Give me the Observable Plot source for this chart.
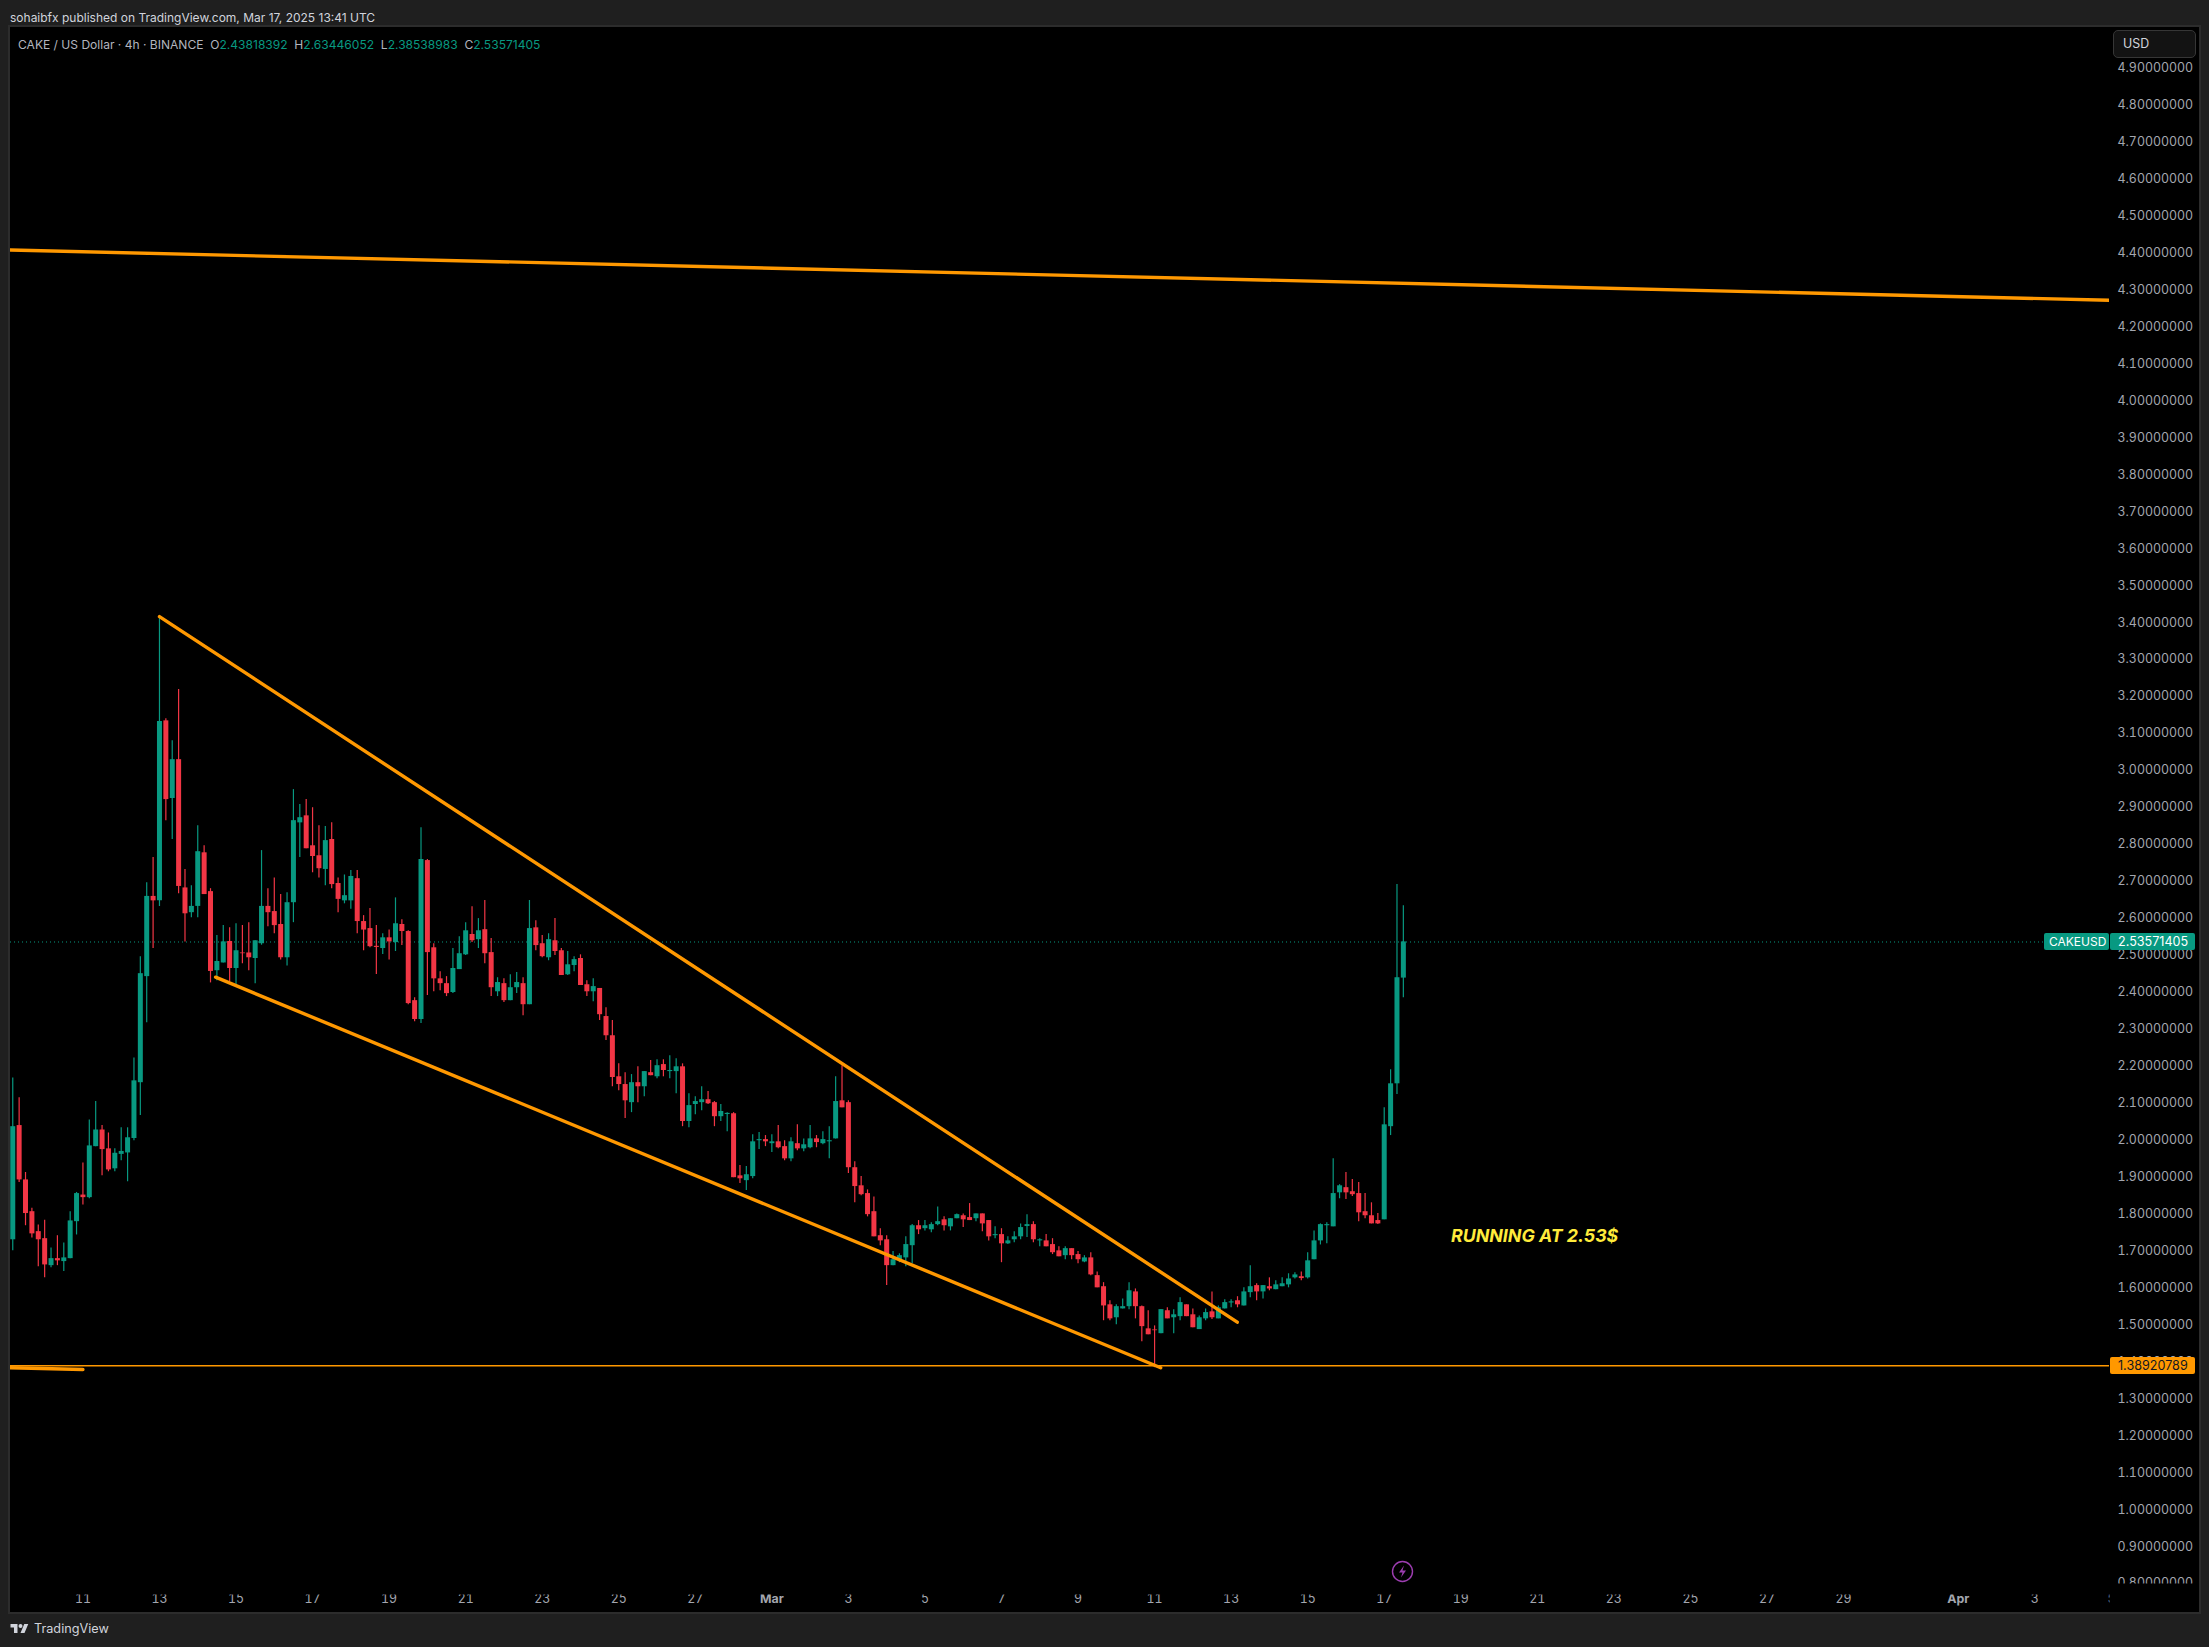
<!DOCTYPE html>
<html>
<head>
<meta charset="utf-8">
<script src="https://cdn.jsdelivr.net/npm/d3@7"></script>
<script src="https://cdn.jsdelivr.net/npm/@observablehq/plot@0.6"></script>
<style>
  html,body{margin:0;padding:0;background:#1f1f1f;}
  #page{position:relative;width:2209px;height:1647px;overflow:hidden;background:#1f1f1f;font-family:Inter,"Noto Sans",sans-serif;}
  #pane{position:absolute;left:10px;top:27px;width:2189px;height:1585px;background:#000;outline:2px solid #2c2c2c;}
  #pane svg{display:block;background:#000;}
  #head{position:absolute;left:10px;top:9px;font-size:12px;line-height:18px;color:#d1d4dc;white-space:pre;}
  #legend{position:absolute;left:18px;top:36px;font-size:12.05px;line-height:18px;color:#b2b5be;white-space:pre;}
  #legend b{font-weight:400;color:#089981;}
  #foot{position:absolute;left:34px;top:1619px;font-size:12.7px;line-height:20px;color:#d1d4dc;}
  #logo{position:absolute;left:10px;top:1622px;width:19px;height:14px;}
  #usd{position:absolute;left:2113px;top:30px;width:72px;height:26px;padding-left:9px;background:#131313;border:1px solid #363636;border-radius:5px;font-size:12.4px;line-height:26px;color:#d1d4dc;box-sizing:content-box;}
  .tag{position:absolute;height:17px;line-height:17px;font-size:12.6px;border-radius:2px;white-space:pre;}
  #bolt{position:absolute;width:23px;height:23px;}
</style>
</head>
<body>
<div id="page">
  <div id="pane"></div>
  <div id="head">sohaibfx published on TradingView.com, Mar 17, 2025 13:41 UTC</div>
  <div id="legend">CAKE / US Dollar · 4h · BINANCE  O<b>2.43818392</b>  H<b>2.63446052</b>  L<b>2.38538983</b>  C<b>2.53571405</b></div>
  <div id="usd">USD</div>
  <svg id="logo" viewBox="0 0 36 28"><path fill="#d1d4dc" d="M14 22H7V11H0V4h14v18zM28 22h-8l7.5-18h8L28 22z"/><circle fill="#d1d4dc" cx="20" cy="8" r="4"/></svg>
  <div id="foot">TradingView</div>
</div>
<script>
const firstCandle = Date.UTC(2025, 1, 9, 4);
const candleStep = 4 * 3600 * 1000;

const highs = [
2.168,2.114,1.912,1.815,1.770,1.783,1.708,1.741,1.721,1.806,
1.858,1.938,2.054,2.104,2.039,2.019,1.976,2.033,2.033,2.222,
2.496,2.696,2.764,3.416,3.140,3.080,3.219,2.732,2.688,2.850,
2.796,2.680,2.553,2.580,2.574,2.585,2.580,2.588,2.539,2.783,
2.680,2.709,2.664,2.669,2.948,2.908,2.921,2.899,2.850,2.848,
2.858,2.709,2.717,2.729,2.729,2.607,2.626,2.580,2.558,2.568,
2.655,2.596,2.566,2.385,2.845,2.759,2.531,2.455,2.442,2.518,
2.550,2.588,2.631,2.599,2.648,2.545,2.439,2.436,2.447,2.453,
2.439,2.648,2.593,2.553,2.558,2.599,2.518,2.510,2.496,2.501,
2.431,2.436,2.410,2.358,2.323,2.206,2.182,2.177,2.198,2.185,
2.215,2.217,2.217,2.228,2.220,2.206,2.125,2.117,2.144,2.131,
2.104,2.096,2.074,2.074,1.931,1.928,2.014,2.020,2.012,2.014,
2.039,1.998,2.006,2.041,2.003,2.039,2.012,2.022,2.036,2.171,
2.201,2.106,1.941,1.901,1.865,1.846,1.760,1.741,1.698,1.692,
1.738,1.771,1.782,1.782,1.776,1.819,1.792,1.787,1.800,1.800,
1.828,1.800,1.800,1.782,1.765,1.760,1.738,1.752,1.773,1.798,
1.779,1.733,1.744,1.733,1.711,1.711,1.706,1.698,1.687,1.695,
1.643,1.614,1.565,1.554,1.570,1.614,1.597,1.551,1.538,1.497,
1.541,1.546,1.541,1.573,1.554,1.543,1.524,1.543,1.589,1.551,
1.568,1.568,1.576,1.600,1.660,1.611,1.606,1.627,1.619,1.627,
1.638,1.641,1.643,1.695,1.754,1.773,1.776,1.949,1.879,1.912,
1.893,1.885,1.855,1.830,1.801,2.087,2.190,2.691,2.634];

const lows = [
1.700,1.885,1.768,1.735,1.657,1.627,1.654,1.660,1.644,1.679,
1.743,1.824,1.841,1.982,1.903,1.914,1.914,1.944,1.887,1.998,
2.066,2.317,2.518,2.632,2.864,2.813,2.666,2.536,2.601,2.601,
2.664,2.425,2.431,2.479,2.429,2.414,2.477,2.458,2.423,2.527,
2.577,2.558,2.487,2.471,2.588,2.764,2.788,2.723,2.709,2.688,
2.680,2.615,2.639,2.624,2.558,2.512,2.520,2.448,2.502,2.487,
2.510,2.526,2.366,2.320,2.315,2.391,2.401,2.404,2.388,2.396,
2.461,2.499,2.534,2.518,2.477,2.388,2.388,2.372,2.377,2.396,
2.336,2.366,2.512,2.493,2.485,2.499,2.445,2.445,2.455,2.418,
2.388,2.374,2.323,2.269,2.144,2.133,2.058,2.074,2.101,2.117,
2.174,2.166,2.171,2.166,2.125,2.036,2.033,2.068,2.079,2.096,
2.036,2.050,2.022,1.898,1.882,1.863,1.895,1.974,1.982,1.966,
1.976,1.944,1.941,1.971,1.968,1.976,1.979,1.987,1.949,2.003,
2.087,1.909,1.830,1.849,1.792,1.738,1.714,1.606,1.660,1.668,
1.657,1.665,1.744,1.754,1.749,1.768,1.754,1.754,1.787,1.763,
1.782,1.779,1.752,1.727,1.733,1.668,1.717,1.722,1.730,1.736,
1.722,1.711,1.711,1.690,1.684,1.676,1.676,1.665,1.668,1.633,
1.600,1.511,1.511,1.500,1.543,1.541,1.516,1.454,1.473,1.384,
1.476,1.516,1.476,1.511,1.522,1.492,1.487,1.511,1.514,1.516,
1.543,1.546,1.546,1.551,1.573,1.565,1.570,1.592,1.595,1.603,
1.600,1.624,1.619,1.624,1.676,1.716,1.719,1.765,1.841,1.839,
1.847,1.779,1.787,1.773,1.771,1.784,2.012,2.123,2.385];

const opens = [
1.730,2.039,1.892,1.806,1.752,1.733,1.660,1.679,1.671,1.679,
1.779,1.851,1.844,1.982,2.027,1.976,1.922,1.961,1.965,2.004,
2.155,2.442,2.659,2.647,3.134,2.924,3.029,2.682,2.615,2.632,
2.777,2.672,2.458,2.479,2.537,2.464,2.506,2.506,2.491,2.531,
2.632,2.618,2.583,2.493,2.642,2.858,2.877,2.796,2.769,2.732,
2.813,2.694,2.647,2.647,2.707,2.591,2.572,2.524,2.518,2.547,
2.534,2.583,2.564,2.377,2.326,2.756,2.520,2.436,2.423,2.399,
2.461,2.501,2.556,2.542,2.569,2.507,2.401,2.423,2.377,2.412,
2.423,2.366,2.574,2.531,2.493,2.539,2.512,2.447,2.472,2.491,
2.420,2.401,2.410,2.334,2.282,2.171,2.150,2.101,2.155,2.144,
2.182,2.171,2.204,2.185,2.185,2.198,2.050,2.096,2.101,2.109,
2.101,2.063,2.069,2.071,1.903,1.890,1.901,1.998,2.001,1.990,
1.995,1.982,1.949,1.990,1.976,1.979,2.003,1.990,1.995,2.003,
2.106,2.101,1.925,1.876,1.855,1.806,1.741,1.730,1.660,1.676,
1.681,1.714,1.768,1.760,1.757,1.771,1.784,1.765,1.787,1.795,
1.790,1.787,1.800,1.782,1.741,1.744,1.719,1.730,1.738,1.766,
1.771,1.727,1.727,1.717,1.700,1.687,1.706,1.690,1.670,1.681,
1.633,1.603,1.554,1.519,1.543,1.549,1.589,1.549,1.489,1.486,
1.476,1.538,1.519,1.522,1.554,1.527,1.487,1.516,1.535,1.516,
1.543,1.559,1.565,1.551,1.587,1.606,1.589,1.603,1.595,1.603,
1.608,1.627,1.630,1.627,1.676,1.727,1.768,1.765,1.857,1.871,
1.860,1.855,1.806,1.795,1.782,1.784,2.036,2.152,2.438];

const closes = [
2.036,1.892,1.801,1.746,1.730,1.662,1.679,1.673,1.681,1.781,
1.855,1.844,1.984,2.027,1.974,1.919,1.964,1.969,2.006,2.160,
2.450,2.659,2.647,3.132,2.921,3.029,2.686,2.612,2.632,2.780,
2.664,2.456,2.483,2.536,2.464,2.512,2.504,2.493,2.539,2.632,
2.615,2.580,2.493,2.642,2.864,2.872,2.788,2.767,2.734,2.810,
2.691,2.651,2.661,2.713,2.591,2.568,2.523,2.521,2.547,2.536,
2.585,2.564,2.369,2.326,2.759,2.507,2.436,2.423,2.396,2.464,
2.504,2.566,2.539,2.566,2.504,2.412,2.426,2.377,2.412,2.426,
2.366,2.572,2.526,2.496,2.542,2.510,2.445,2.474,2.488,2.418,
2.401,2.415,2.339,2.282,2.169,2.150,2.106,2.155,2.144,2.185,
2.174,2.201,2.188,2.188,2.198,2.050,2.093,2.104,2.109,2.098,
2.063,2.077,2.072,1.898,1.895,1.906,1.995,2.001,1.995,1.995,
1.979,1.949,1.995,1.976,1.987,2.003,1.993,2.001,1.998,2.104,
2.087,1.925,1.874,1.852,1.798,1.738,1.727,1.660,1.676,1.687,
1.717,1.768,1.757,1.768,1.771,1.779,1.768,1.787,1.798,1.784,
1.782,1.800,1.773,1.738,1.744,1.719,1.727,1.738,1.763,1.771,
1.730,1.730,1.711,1.695,1.684,1.706,1.687,1.676,1.681,1.635,
1.600,1.551,1.516,1.549,1.549,1.592,1.549,1.495,1.473,1.484,
1.541,1.516,1.527,1.560,1.522,1.492,1.519,1.533,1.519,1.546,
1.560,1.562,1.554,1.589,1.603,1.589,1.606,1.597,1.608,1.611,
1.624,1.635,1.625,1.673,1.727,1.771,1.771,1.855,1.876,1.857,
1.852,1.803,1.795,1.773,1.773,2.041,2.152,2.439,2.536];

const lastPrice = 2.53571405;
const supportPrice = 1.38920789;
const priceTicks = d3.range(8, 50).map(v => v / 10);
const dayTicks = ["02-11","02-13","02-15","02-17","02-19","02-21","02-23","02-25","02-27","03-03","03-05","03-07","03-09","03-11","03-13","03-15","03-17","03-19","03-21","03-23","03-25","03-27","03-29","04-03","04-05"].map(s => new Date(`2025-${s}T00:00Z`));
const monthTicks = ["03-01","04-01"].map(s => new Date(`2025-${s}T00:00Z`));

const timeDomain = [new Date("2025-02-09T02:35Z"), new Date("2025-04-04T22:48Z")];
const priceDomain = [0.8, 5.01];

const ceilingLine = [{t:timeDomain[0], p:4.408},{t:timeDomain[1], p:4.272}];
const wedgeUpper = [{t:new Date("2025-02-13T00:00Z"), p:3.416},{t:new Date("2025-03-13T03:50Z"), p:1.507}];
const wedgeLower = [{t:new Date("2025-02-14T11:10Z"), p:2.4405},{t:new Date("2025-03-11T03:50Z"), p:1.3837}];
const stubLine = [{t:timeDomain[0], p:1.3837},{t:new Date("2025-02-11T00:00Z"), p:1.379}];
const note = [{t:new Date("2025-03-20T22:20Z"), p:1.739, text:"RUNNING AT 2.53$"}];

const up = "#089981", down = "#F23645", orange = "#FF9800";
const candles = highs.map((h, i) => ({
  time: new Date(firstCandle + i * candleStep),
  high: h, low: lows[i], open: opens[i], close: closes[i]
}));
const tint = d => d.close >= d.open ? up : down;
const trend = (data, w) => Plot.line(data, {x:"t", y:"p", stroke:orange, strokeWidth:w, strokeLinecap:"round", clip:true});

const chart = Plot.plot({
  width: 2189, height: 1585,
  marginLeft: 0, marginRight: 90, marginTop: 0, marginBottom: 29,
  style: {background:"#000", fontFamily:"Inter, 'Noto Sans', sans-serif", fontSize:"12.4px", color:"#9598a1"},
  x: {type:"utc", domain: timeDomain, axis:null},
  y: {domain: priceDomain, axis:null},
  marks: [
    Plot.ruleY([lastPrice], {stroke:up, strokeWidth:1, strokeDasharray:"1 3"}),
    Plot.ruleY([supportPrice], {stroke:orange, strokeWidth:1.4}),
    Plot.ruleX(candles, {x:"time", y1:"low", y2:"high", stroke:tint, strokeWidth:1.2, clip:true}),
    Plot.ruleX(candles, {x:"time", y1:"open", y2:"close", stroke:tint, strokeWidth:5, clip:true}),
    trend(ceilingLine, 3.4),
    trend(wedgeUpper, 3.4),
    trend(wedgeLower, 3.4),
    trend(stubLine, 3.4),
    Plot.text(note, {x:"t", y:"p", text:"text", fill:"#FFEB3B", fontSize:17.8, fontWeight:700, fontStyle:"italic", fontFamily:"Inter, 'Liberation Sans', sans-serif"}),
    Plot.axisY(priceTicks, {anchor:"right", tickSize:0, tickPadding:8, tickFormat:d3.format(".8f"), fill:"#a3a6af"}),
    Plot.axisX(dayTicks, {anchor:"bottom", tickSize:0, tickPadding:11, tickFormat:d3.utcFormat("%-d"), fill:"#a3a6af"}),
    Plot.axisX(monthTicks, {anchor:"bottom", tickSize:0, tickPadding:11, tickFormat:d3.utcFormat("%b"), fill:"#a3a6af", fontWeight:700})
  ]
});
document.getElementById("pane").appendChild(chart);

// the TradingView panes cut their labels at the pane edges
const sel = d3.select(chart);
const defs = sel.append("defs");
const xs = chart.scale("x"), ys = chart.scale("y");
const frameRight = xs.range[1], frameBottom = ys.range[0];
defs.append("clipPath").attr("id","yClip").append("rect").attr("x",0).attr("y",0).attr("width",2189).attr("height",frameBottom);
defs.append("clipPath").attr("id","xClip").append("rect").attr("x",0).attr("y",frameBottom).attr("width",frameRight).attr("height",40);
sel.selectAll('[aria-label="y-axis tick label"]').attr("clip-path","url(#yClip)");
sel.selectAll('[aria-label="x-axis tick label"]').attr("clip-path","url(#xClip)");

// price tags sit on top of the axis, placed through the y scale
const page = document.getElementById("page");
function tag(text, left, width, pad, price, bg, fg, size){
  const d = document.createElement("div");
  d.className = "tag";
  d.textContent = text;
  d.style.cssText = `left:${left}px;width:${width - pad}px;padding-left:${pad}px;top:${27 + ys.apply(price) - 8.5}px;background:${bg};color:${fg};font-size:${size}px;`;
  page.appendChild(d);
}
tag("CAKEUSD", 2044, 65, 5, lastPrice, up, "#fff", 12);
tag("2.53571405", 2110, 85, 8, lastPrice, up, "#fff", 12.6);
tag("1.38920789", 2110, 85, 8, supportPrice, orange, "#131722", 12.6);

const bx = 10 + xs.apply(candles[candles.length - 1].time);
const bolt = document.createElementNS("http://www.w3.org/2000/svg","svg");
bolt.setAttribute("id","bolt");
bolt.setAttribute("viewBox","0 0 23 23");
bolt.style.left = (bx - 11.5) + "px";
bolt.style.top = "1560px";
bolt.innerHTML = '<circle cx="11.5" cy="11.5" r="10" fill="none" stroke="#9c3db0" stroke-width="1.4"/><path d="M13 5.5 L8 12.5 H11.5 L10 17.5 L15 10.5 H11.5 Z" fill="#9c3db0"/>';
page.appendChild(bolt);
</script>
</body>
</html>
